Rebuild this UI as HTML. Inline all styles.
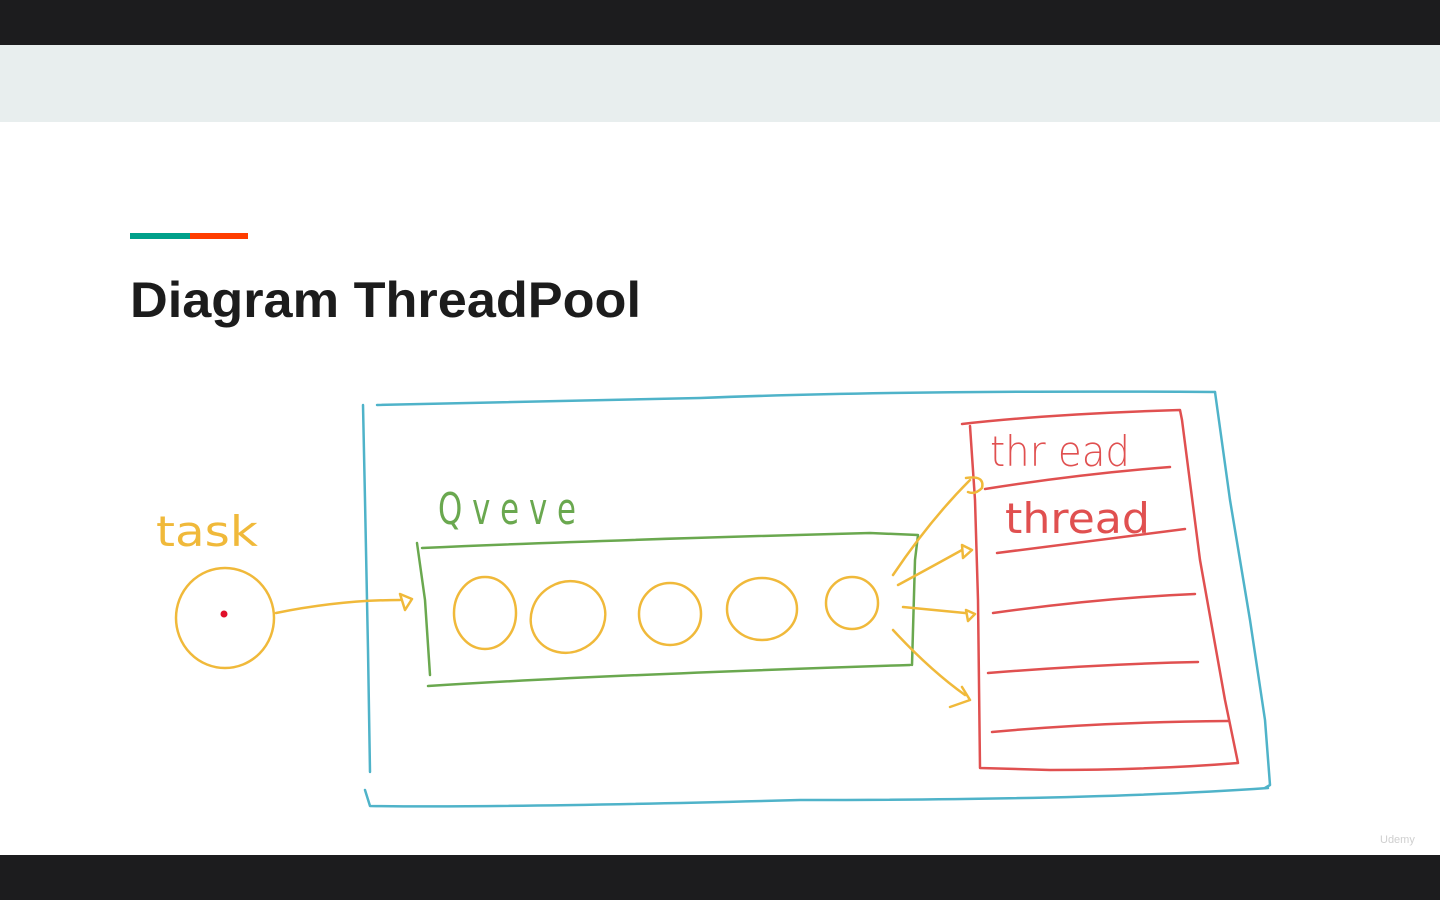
<!DOCTYPE html>
<html><head><meta charset="utf-8"><style>
html,body{margin:0;padding:0;width:1440px;height:900px;overflow:hidden;background:#fff}
</style></head><body>
<svg width="1440" height="900" xmlns="http://www.w3.org/2000/svg" style="display:block">
<rect x="0" y="0" width="1440" height="45" fill="#1c1c1e"/>
<rect x="0" y="45" width="1440" height="77" fill="#e8eeee"/>
<rect x="0" y="855" width="1440" height="45" fill="#1c1c1e"/>
<rect x="130" y="233" width="60" height="6" fill="#00a08a"/>
<rect x="190" y="233" width="58" height="6" fill="#ff3d00"/>
<text x="130" y="317" font-family="Liberation Sans, sans-serif" font-weight="bold" font-size="50" fill="#1c1c1c" textLength="511" lengthAdjust="spacingAndGlyphs">Diagram ThreadPool</text>
<g fill="none" stroke-linecap="round" stroke-linejoin="round" stroke-width="2.5">
<g stroke="#4fb3c9">
<path d="M363 405 L365 500 L368 650 L370 772"/>
<path d="M377 405 Q500 402 700 398 Q900 390 1215 392"/>
<path d="M1215 392 L1230 500 L1250 620 L1265 720 L1270 785 L1265 788"/>
<path d="M1268 788 Q1100 800 800 800 Q500 808 370 806 L365 790"/>
</g>
<g stroke="#e05050">
<path d="M962 424 Q1050 414 1180 410 L1182 420 L1200 560 L1225 700 L1238 763 Q1150 770 1050 770 L980 768 L978 600 L975 500 L970 426"/>
<path d="M985 489 Q1080 474 1170 467"/>
<path d="M997 553 Q1100 540 1185 529"/>
<path d="M993 613 Q1100 598 1195 594"/>
<path d="M988 673 Q1100 664 1198 662"/>
<path d="M992 732 Q1100 722 1228 721"/>
</g>
<g stroke="#6aa84f">
<path d="M422 548 Q600 540 870 533 L918 535 L915 560 L912 665"/>
<path d="M417 543 L425 600 L430 675"/>
<path d="M428 686 Q600 675 910 665"/>
</g>
<g stroke="#f0b93a">
<ellipse cx="225" cy="618" rx="49" ry="50"/>
<ellipse cx="485" cy="613" rx="31" ry="36"/>
<ellipse cx="568" cy="617" rx="38" ry="35" transform="rotate(-30 568 617)"/>
<ellipse cx="670" cy="614" rx="31" ry="31"/>
<ellipse cx="762" cy="609" rx="35" ry="31"/>
<ellipse cx="852" cy="603" rx="26" ry="26"/>
<path d="M276 613 Q340 600 400 600"/>
<path d="M400 594 L412 599 L405 610 Z"/>
<path d="M893 575 Q930 520 970 480"/>
<path d="M966 478 Q985 475 982 488 Q975 495 968 492"/>
<path d="M898 585 Q935 565 962 550"/>
<path d="M962 545 L972 550 L963 558 Z"/>
<path d="M903 607 Q935 610 965 613"/>
<path d="M966 610 L975 614 L968 621 Z"/>
<path d="M893 630 Q930 670 965 695"/>
<path d="M962 687 L970 700 L950 707"/>
</g>
</g>
<text x="990" y="466" font-family="DejaVu Sans, sans-serif" font-weight="300" font-size="42" fill="#e05050" textLength="140" lengthAdjust="spacingAndGlyphs">thr ead</text>
<text x="1005" y="533" font-family="DejaVu Sans, sans-serif" font-size="42" fill="#e05050" textLength="145" lengthAdjust="spacingAndGlyphs">thread</text>
<text x="438" y="524" font-family="DejaVu Sans, sans-serif" font-size="44" fill="#6aa84f" textLength="138" lengthAdjust="spacingAndGlyphs">Q v e v e</text>
<text x="156" y="546" font-family="DejaVu Sans, sans-serif" font-size="42" fill="#f0b93a" textLength="102" lengthAdjust="spacingAndGlyphs">task</text>
<circle cx="224" cy="614" r="3.5" fill="#e0102a"/>
<text x="1380" y="843" font-family="Liberation Sans, sans-serif" font-size="11" fill="#cfcfcf">Udemy</text>
</svg>
</body></html>
